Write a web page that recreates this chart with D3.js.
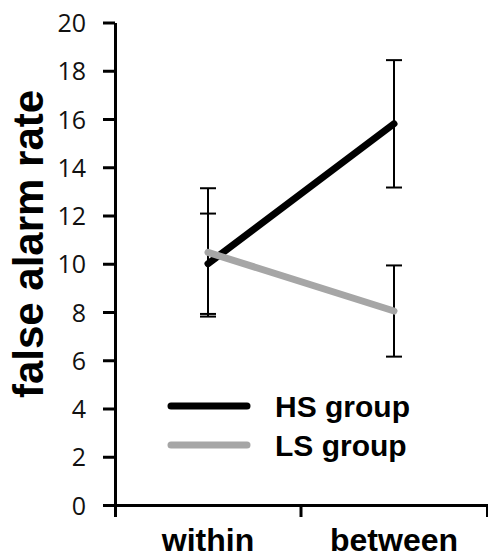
<!DOCTYPE html>
<html>
<head>
<meta charset="utf-8">
<script src="https://cdn.jsdelivr.net/npm/d3@7"></script>
<style>
  body { margin: 0; background: #fff; }
  svg { display: block; }
</style>
</head>
<body>
<svg id="chart" width="488" height="558"></svg>
<script>
// data
const conditions = ["within", "between"];
const groups = ["HS group", "LS group"];
const hsMeans = [10.0, 15.8];
const hsErrors = [2.08, 2.64];
const lsMeans = [10.47, 8.04];
const lsErrors = [2.66, 1.89];
const yTicks = [0, 2, 4, 6, 8, 10, 12, 14, 16, 18, 20];

const colors = { "HS group": "#000000", "LS group": "#a6a6a6" };

const svg = d3.select("#chart");

const x = d3.scaleBand().domain(conditions).range([115, 487]);
const y = d3.scaleLinear().domain([0, 20]).range([505, 22.5]);

const series = [
  { name: groups[0], means: hsMeans, errors: hsErrors },
  { name: groups[1], means: lsMeans, errors: lsErrors }
];

// Y AXIS
const yAxis = svg.append("g")
  .attr("transform", "translate(115,0)")
  .call(d3.axisLeft(y).tickValues(yTicks).tickSize(12).tickSizeOuter(0).tickPadding(17));
yAxis.selectAll("path, line").attr("stroke", "#000").attr("stroke-width", 3);
yAxis.selectAll("text")
  .attr("font-family", "'Open Sans', 'Noto Sans', sans-serif")
  .attr("font-size", 25)
  .attr("fill", "#111")
  .attr("dy", "0.36em");

// X AXIS
const xAxis = svg.append("g")
  .attr("transform", "translate(0,505)")
  .call(d3.axisBottom(x).tickSize(0).tickSizeOuter(12).tickPadding(23));
xAxis.selectAll("path").attr("stroke", "#000").attr("stroke-width", 3);
xAxis.selectAll("text")
  .attr("font-family", "'Liberation Sans', Arial, sans-serif")
  .attr("font-weight", "bold")
  .attr("font-size", 32)
  .attr("fill", "#000");

// boundary tick between categories
xAxis.append("line")
  .attr("x1", x("between")).attr("x2", x("between"))
  .attr("y1", 0).attr("y2", 12)
  .attr("stroke", "#000").attr("stroke-width", 3);

// Y TITLE
svg.append("text")
  .attr("transform", "translate(43,244) rotate(-90)")
  .attr("text-anchor", "middle")
  .attr("font-family", "'Liberation Sans', Arial, sans-serif")
  .attr("font-weight", "bold")
  .attr("font-size", 42)
  .text("false alarm rate");

const cx = d => x(d) + x.bandwidth() / 2;

// ERROR BARS
const capHalf = 8;
series.forEach(s => {
  const g = svg.append("g").attr("class", "errorbars");
  conditions.forEach((c, i) => {
    const lo = y(s.means[i] - s.errors[i]);
    const hi = y(s.means[i] + s.errors[i]);
    g.append("line")
      .attr("x1", cx(c)).attr("x2", cx(c))
      .attr("y1", lo).attr("y2", hi)
      .attr("stroke", "#000").attr("stroke-width", 2);
    [lo, hi].forEach(v => {
      g.append("line")
        .attr("x1", cx(c) - capHalf).attr("x2", cx(c) + capHalf)
        .attr("y1", v).attr("y2", v)
        .attr("stroke", "#000").attr("stroke-width", 2);
    });
  });
});

// LINES
const line = d3.line().x((d, i) => cx(conditions[i])).y(d => y(d));
series.forEach(s => {
  svg.append("path")
    .datum(s.means)
    .attr("d", line)
    .attr("fill", "none")
    .attr("stroke", colors[s.name])
    .attr("stroke-width", 7)
    .attr("stroke-linecap", "round");
});

// LEGEND
const legend = svg.append("g").attr("transform", "translate(171,406)");
groups.forEach((gname, i) => {
  const row = legend.append("g").attr("transform", `translate(0,${i * 39})`);
  row.append("line")
    .attr("x1", 0).attr("x2", 76)
    .attr("y1", 0).attr("y2", 0)
    .attr("stroke", colors[gname])
    .attr("stroke-width", 7)
    .attr("stroke-linecap", "round");
  row.append("text")
    .attr("x", 104)
    .attr("y", 11)
    .attr("font-family", "'Liberation Sans', Arial, sans-serif")
    .attr("font-weight", "bold")
    .attr("font-size", 30)
    .text(gname);
});
</script>
</body>
</html>
